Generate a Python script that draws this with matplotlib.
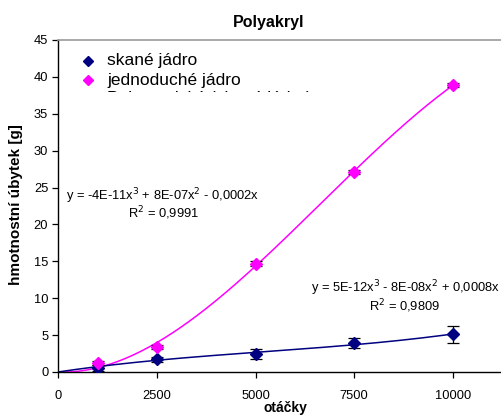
import numpy as np
import matplotlib
matplotlib.use("Agg")
import matplotlib.pyplot as plt
from matplotlib.transforms import Bbox

plt.rcParams['font.family'] = ['Liberation Sans', 'DejaVu Sans']

otacky = np.array([1000, 2500, 5000, 7500, 10000])
skane = np.array([0.6, 1.7, 2.4, 3.9, 5.1])
skane_err = np.array([0.4, 0.35, 0.65, 0.7, 1.2])
jednoduche = np.array([1.2, 3.4, 14.7, 27.1, 38.9])
jednoduche_err = np.array([0.25, 0.3, 0.3, 0.3, 0.3])

# linear terms of the polynomial trends, as given in the equations
lin_skane = 0.0008
lin_jednoduche = -0.0002

series_names = ["skané jádro", "jednoduché jádro", "Polynomický (skané jádro)"]
eq_skane = ["y = 5E-12x$^3$ - 8E-08x$^2$ + 0,0008x", "R$^2$ = 0,9809"]
eq_jedn = ["y = -4E-11x$^3$ + 8E-07x$^2$ - 0,0002x", "R$^2$ = 0,9991"]

BLUE = "#000080"
MAGENTA = "#FF00FF"

W, H = 501, 416
fig = plt.figure(figsize=(W / 100, H / 100), dpi=100)
ax = fig.add_axes([58 / W, 44 / H, (W - 58) / W, 332 / H])


def cubic_trend(x, y, lin):
    # cubic through the origin: least squares for the x^3 and x^2 terms
    x = x.astype(float)
    A = np.column_stack([x ** 3, x ** 2])
    (a, b), *_ = np.linalg.lstsq(A, y - lin * x, rcond=None)
    return lambda t: a * t ** 3 + b * t ** 2 + lin * t


xs = np.linspace(0, 10000, 200)
for y, lin, col in [(jednoduche, lin_jednoduche, MAGENTA), (skane, lin_skane, BLUE)]:
    f = cubic_trend(otacky, y, lin)
    ax.plot(xs, f(xs), color=col, lw=1.1, zorder=2)

for y, e, col in [(skane, skane_err, BLUE), (jednoduche, jednoduche_err, MAGENTA)]:
    ax.errorbar(otacky, y, yerr=e, fmt='none', ecolor='black', elinewidth=0.9,
                capsize=4, capthick=0.9, zorder=3)
    ax.plot(otacky, y, linestyle='none', marker='D', markersize=6.5,
            color=col, markeredgecolor=col, zorder=4)

ax.set_xlim(0, 11215)
ax.set_ylim(0, 45)
ax.set_xticks([0, 2500, 5000, 7500, 10000])
ax.set_yticks(np.arange(0, 46, 5))
ax.tick_params(direction='out', length=4, width=0.9, labelsize=9.3, colors='black')
ax.tick_params(axis='x', pad=9)
ax.tick_params(axis='y', pad=3)
ax.spines['right'].set_visible(False)
ax.spines['top'].set_color('#999999')
ax.spines['top'].set_linewidth(1.2)
for s in ['left', 'bottom']:
    ax.spines[s].set_linewidth(1.0)

fig.text(269 / W, 1 - 22 / H, "Polyakryl", ha='center', va='center',
         fontsize=11.5, fontweight='bold')
fig.text(285 / W, 1 - 408 / H, "otáčky", ha='center', va='center',
         fontsize=10, fontweight='bold')
fig.text(16 / W, 1 - 205 / H, "hmotnostní úbytek [g]", ha='center', va='center',
         rotation=90, fontsize=11, fontweight='bold')

# legend (last row partly hidden by the plot-area box)
legend_rows = [(BLUE, 61), (MAGENTA, 80), (None, 99)]
for name, (col, ypx) in zip(series_names, legend_rows):
    if col is not None:
        fig.lines.append(plt.Line2D([88 / W], [1 - ypx / H], transform=fig.transFigure,
                                    marker='D', markersize=5, color=col, linestyle='none'))
    t = fig.text(107 / W, 1 - ypx / H, name, ha='left', va='center', fontsize=12.5)
    if col is None:
        t.set_clip_box(Bbox([[0, H - 92], [W, H]]))
        t.set_clip_on(True)

fig.text(163 / W, 1 - 196 / H, eq_jedn[0], ha='center', va='center', fontsize=9.3)
fig.text(163 / W, 1 - 213 / H, eq_jedn[1], ha='center', va='center', fontsize=9.3)
fig.text(405 / W, 1 - 288 / H, eq_skane[0], ha='center', va='center', fontsize=9.3)
fig.text(405 / W, 1 - 306 / H, eq_skane[1], ha='center', va='center', fontsize=9.3)

fig.savefig("out.png", dpi=100)
